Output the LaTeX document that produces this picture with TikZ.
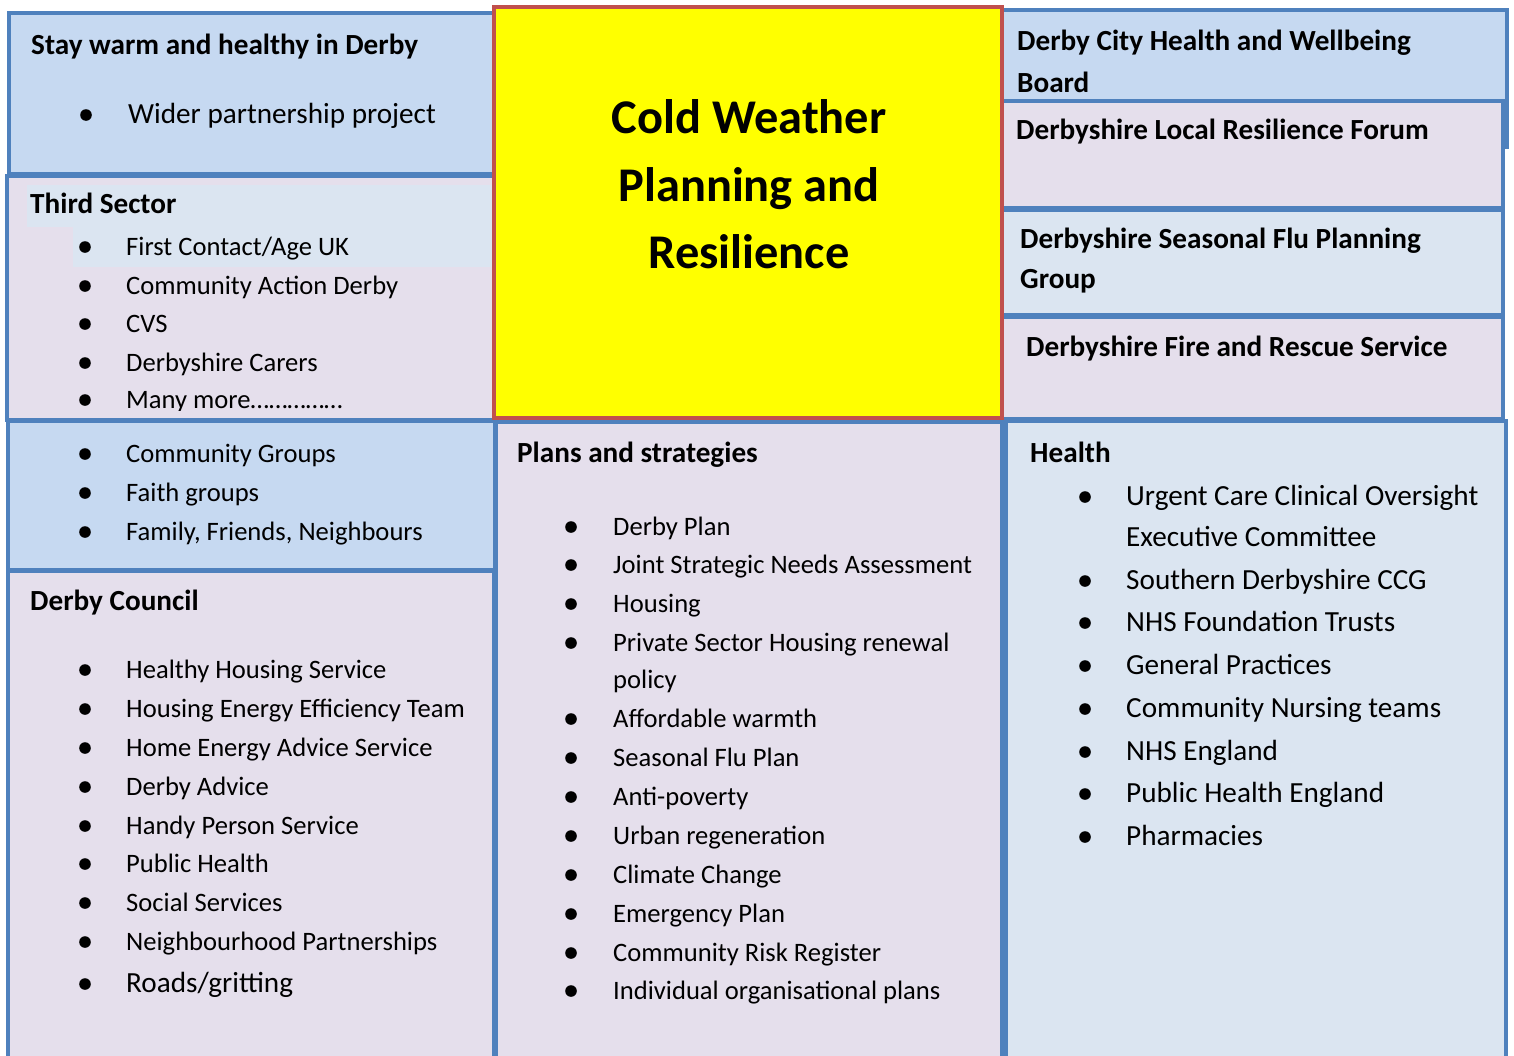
\documentclass[tikz,border=0pt]{standalone}
\usepackage{fontspec}
\setmainfont{Carlito}
\definecolor{edgeblue}{HTML}{4F81BD}
\definecolor{fillblue}{HTML}{C6D9F1}
\definecolor{paleblue}{HTML}{DBE5F1}
\definecolor{lavender}{HTML}{E5DFEC}
\definecolor{edgered}{HTML}{C0504D}
\definecolor{hotyellow}{RGB}{255,255,0}
\newcommand\bodyfont{\fontsize{26.6}{32}\selectfont}
\newcommand\largefont{\fontsize{29.2}{35}\selectfont}
\newcommand\headfont{\bfseries\fontsize{29.2}{35}\selectfont}
\newcommand\titlefont{\bfseries\fontsize{48.4}{60}\selectfont}
\begin{document}
\begin{tikzpicture}[x=1pt,y=-1pt,
  panel/.style={draw=edgeblue,line width=4pt},
  head/.style={anchor=base west,inner sep=0pt,font=\headfont},
  item/.style={anchor=base west,inner sep=0pt,font=\bodyfont},
  bigitem/.style={anchor=base west,inner sep=0pt,font=\largefont},
  title/.style={anchor=base,inner sep=0pt,font=\titlefont},
  dot/.style={fill=black}]
\useasboundingbox (0,0) rectangle (1514,1055);

% ---- panels, left column
\draw[panel,fill=fillblue] (9,13) rectangle (494,174);
\draw[panel,fill=lavender] (6.5,176) rectangle (494,420);
\fill[paleblue] (27,185) rectangle (492,227);
\fill[paleblue] (73,227) rectangle (492,267);
\draw[panel,fill=fillblue] (8,421) rectangle (495,570);
\draw[panel,fill=lavender] (8,571) rectangle (494,1065);
% ---- middle column
\draw[panel,fill=lavender] (495.5,422) rectangle (1001.5,1065);
% ---- right column (left edges tucked under the central block)
\draw[panel,fill=fillblue] (1002,10) rectangle (1507,147);
\draw[panel,fill=lavender] (1002,101) rectangle (1503,208);
\draw[panel,fill=paleblue] (1002,210) rectangle (1503,315);
\draw[panel,fill=lavender] (1002,317) rectangle (1503,419);
\draw[panel,fill=paleblue] (1006,421) rectangle (1506,1065);
% ---- central block
\draw[draw=edgered,line width=4pt,fill=hotyellow] (494,7) rectangle (1002,418);

% ---- central title
\node[title] (t1) at (749,133) {Cold Weather};
\node[title] (t2) at (749,201) {Planning and};
\node[title] (t3) at (749,268) {Resilience};

% ---- Stay warm and healthy
\node[head] (sw) at (31,54) {Stay warm and healthy in Derby};
\node[bigitem] (sw1) at (128,123) {Wider partnership project};
\fill[dot] (86,115) circle[radius=5.8pt];

% ---- Third sector
\node[head] (ts) at (30,213) {Third Sector};
\foreach \n/\yb/\t in {1/255/{First Contact/Age UK},2/294/{Community Action Derby},
    3/332/{CVS},4/371/{Derbyshire Carers}}{
  \node[item] (ts\n) at (126,\yb) {\t};
  \fill[dot] (85,\yb-8) circle[radius=5.8pt];
}
\begin{scope}
  \clip (7,176) rectangle (494,410);
  \node[item] (ts5) at (126,408) {Many more……………};
\end{scope}
\fill[dot] (85,400) circle[radius=5.8pt];

% ---- Community groups
\foreach \n/\yb/\t in {1/462/{Community Groups},2/501/{Faith groups},
    3/540/{Family, Friends, Neighbours}}{
  \node[item] (cg\n) at (126,\yb) {\t};
  \fill[dot] (85,\yb-8) circle[radius=5.8pt];
}

% ---- Derby Council
\node[head] (dc) at (30,610) {Derby Council};
\foreach \n/\yb/\t in {1/678/{Healthy Housing Service},2/717/{Housing Energy Efficiency Team},
    3/756/{Home Energy Advice Service},4/795/{Derby Advice},5/834/{Handy Person Service},
    6/872/{Public Health},7/911/{Social Services},8/950/{Neighbourhood Partnerships}}{
  \node[item] (dc\n) at (126,\yb) {\t};
  \fill[dot] (85,\yb-8) circle[radius=5.8pt];
}
\node[bigitem] (dc9) at (126,992) {Roads/gritting};
\fill[dot] (85,984) circle[radius=5.8pt];

% ---- Plans and strategies
\node[head] (ps) at (517,462) {Plans and strategies};
\foreach \n/\yb/\t in {1/535/{Derby Plan},2/573/{Joint Strategic Needs Assessment},
    3/612/{Housing},4/651/{Private Sector Housing renewal},
    6/727/{Affordable warmth},7/766/{Seasonal Flu Plan},8/805/{Anti-poverty},
    9/844/{Urban regeneration},10/883/{Climate Change},11/922/{Emergency Plan},
    12/961/{Community Risk Register},13/999/{Individual organisational plans}}{
  \node[item] (ps\n) at (613,\yb) {\t};
  \fill[dot] (571,\yb-8) circle[radius=5.8pt];
}
\node[item] (ps5) at (613,688) {policy};

% ---- Health
\node[head] (hl) at (1030,462) {Health};
\foreach \n/\yb/\t in {1/505/{Urgent Care Clinical Oversight},3/589/{Southern Derbyshire CCG},
    4/631/{NHS Foundation Trusts},5/674/{General Practices},6/717/{Community Nursing teams},
    7/760/{NHS England},8/802/{Public Health England},9/845/{Pharmacies}}{
  \node[bigitem] (hl\n) at (1126,\yb) {\t};
  \fill[dot] (1085,\yb-8) circle[radius=5.8pt];
}
\node[bigitem] (hl2) at (1126,546) {Executive Committee};

% ---- right column headings
\node[head] (hwb1) at (1017,50) {Derby City Health and Wellbeing};
\node[head] (hwb2) at (1017,92) {Board};
\node[head] (lrf) at (1016,139) {Derbyshire Local Resilience Forum};
\node[head] (flu1) at (1020,248) {Derbyshire Seasonal Flu Planning};
\node[head] (flu2) at (1020,288) {Group};
\node[head] (fire) at (1026,356) {Derbyshire Fire and Rescue Service};
\end{tikzpicture}
\end{document}
